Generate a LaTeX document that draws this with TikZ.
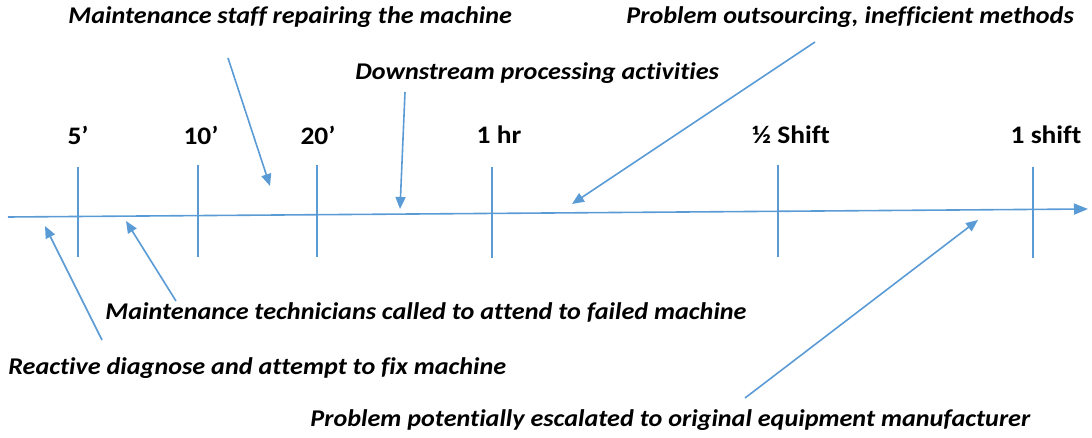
\documentclass[tikz,border=0pt]{standalone}
\usepackage{fontspec}
\usepackage{graphicx}
\setmainfont{Carlito}[Ligatures=NoCommon]
\usetikzlibrary{arrows.meta}
\definecolor{lineblue}{HTML}{5B9BD5}
% text in this figure is set slightly wide
\newcommand{\widetext}[1]{\scalebox{1.09}[1]{#1}}
\tikzset{
  axisline/.style={draw=lineblue, line width=0.8pt},
  tickline/.style={draw=lineblue, line width=0.8pt},
  pointer/.style={draw=lineblue, line width=0.8pt, -{Triangle[length=6pt,width=5pt]}},
  ticklabel/.style={font=\fontsize{12.6}{14}\selectfont\bfseries, inner sep=0pt},
  note/.style={font=\fontsize{12}{14}\selectfont\bfseries\itshape, inner sep=0pt, anchor=west},
}
\begin{document}
\begin{tikzpicture}[x=0.5pt, y=-0.5pt]
  \useasboundingbox (0,0) rectangle (1092,438);

  % time axis
  \coordinate (axstart) at (8,217);
  \coordinate (axend) at (1088,209);
  \draw[axisline, -{Triangle[length=7pt,width=5.5pt]}] (axstart) -- (axend);

  % tick marks
  \foreach \nm/\x/\ya/\yb in {t5/78/167/257, t10/198/165/257, t20/317/165/257,
                              t60/492/167/258, thalf/778/165/257, tshift/1033/167/258} {
    \coordinate (\nm top) at (\x,\ya);
    \coordinate (\nm bot) at (\x,\yb);
    \draw[tickline] (\nm top) -- (\nm bot);
  }

  % tick labels
  \node[ticklabel] (l5) at (78,135) {\widetext{5’}};
  \node[ticklabel] (l10) at (201,135) {\widetext{10’}};
  \node[ticklabel] (l20) at (318,135) {\widetext{20’}};
  \node[ticklabel] (l60) at (499,135) {\widetext{1 hr}};
  \node[ticklabel] (lhalf) at (791,135) {\widetext{½ Shift}};
  \node[ticklabel] (lshift) at (1046,135) {\widetext{1 shift}};

  % event notes
  \node[note] (staff) at (68,17) {\widetext{Maintenance staff repairing the machine}};
  \node[note] (down) at (355,73) {\widetext{Downstream processing activities}};
  \node[note] (outs) at (626,17) {\widetext{Problem outsourcing, inefficient methods}};
  \node[note] (tech) at (105,312) {\widetext{Maintenance technicians called to attend to failed machine}};
  \node[note] (react) at (8,368) {\widetext{Reactive diagnose and attempt to fix machine}};
  \node[note] (oem) at (310,420) {\widetext{Problem potentially escalated to original equipment manufacturer}};

  % pointer ends
  \coordinate (staffS) at (228,58);   \coordinate (staffE) at (270,186);
  \coordinate (downS) at (405,92);    \coordinate (downE) at (400,209);
  \coordinate (outsS) at (815,42);    \coordinate (outsE) at (572,204);
  \coordinate (techS) at (176,301);   \coordinate (techE) at (126,221);
  \coordinate (reactS) at (102,340);  \coordinate (reactE) at (45,226);
  \coordinate (oemS) at (745,398);    \coordinate (oemE) at (978,220);

  \draw[pointer] (staffS) -- (staffE);
  \draw[pointer] (downS) -- (downE);
  \draw[pointer] (outsS) -- (outsE);
  \draw[pointer] (techS) -- (techE);
  \draw[pointer] (reactS) -- (reactE);
  \draw[pointer] (oemS) -- (oemE);
\end{tikzpicture}
\end{document}
